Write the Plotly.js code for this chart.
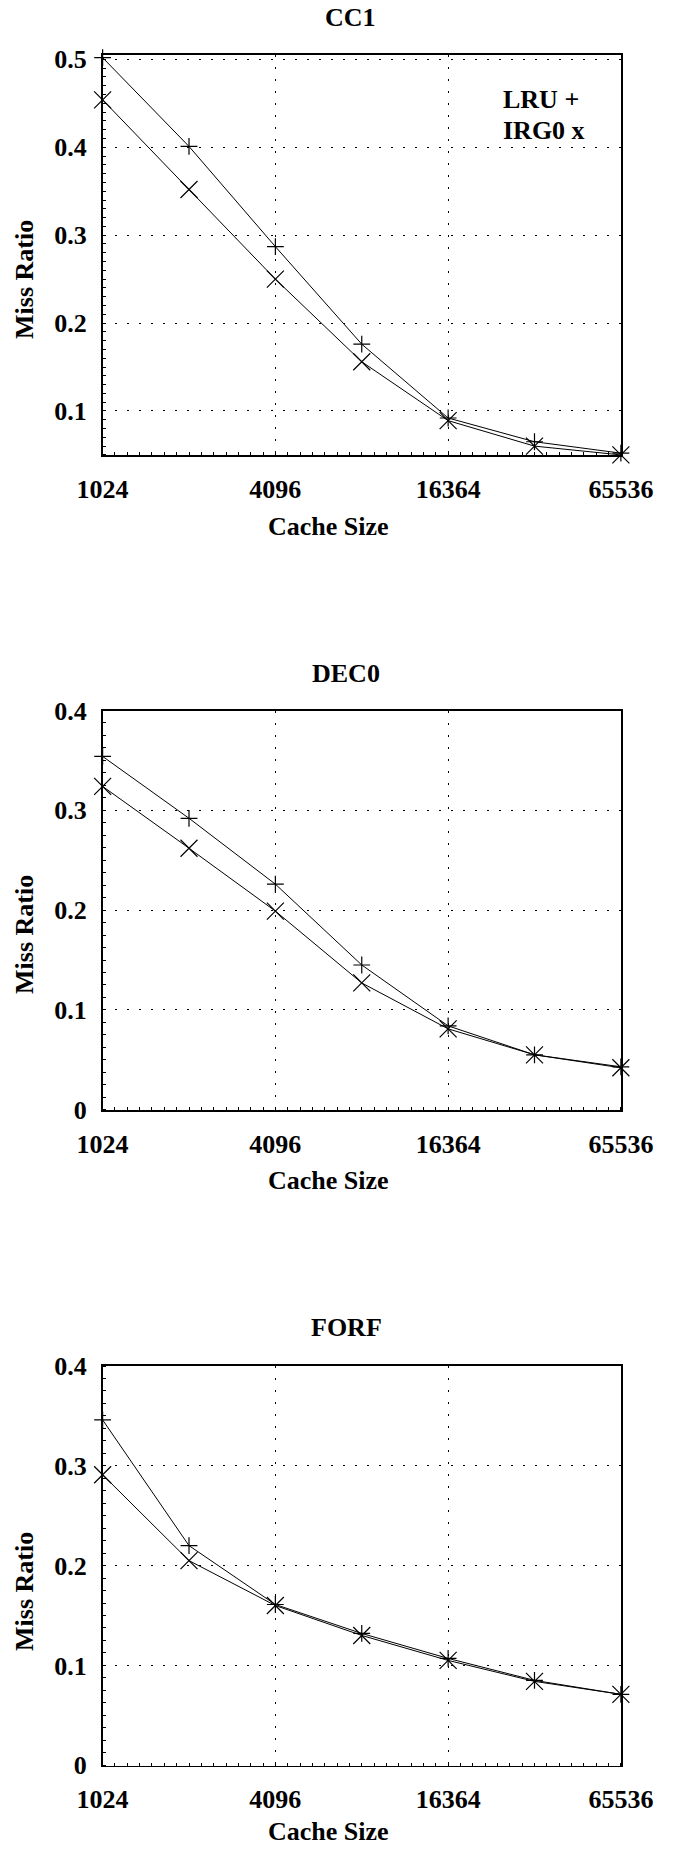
<!DOCTYPE html>
<html>
<head>
<meta charset="utf-8">
<script src="https://cdn.plot.ly/plotly-3.0.1.min.js"></script>
<style>
  html, body { margin: 0; padding: 0; background: #fff; }
  #chart { width: 683px; height: 1849px; }
</style>
</head>
<body>
<div id="chart"></div>
<script>
// ---- data ----
const cacheSizes = [1024, 2048, 4096, 8192, 16384, 32768, 65536];
const xTickVals = [1024, 4096, 16384, 65536];
const xTickText = ['1024', '4096', '16364', '65536'];

const panelTitles = ['CC1', 'DEC0', 'FORF'];
const seriesNames = ['LRU', 'IRG0'];

const cc1LRU  = [0.502, 0.401, 0.287, 0.176, 0.092, 0.065, 0.052];
const cc1IRG0 = [0.454, 0.352, 0.250, 0.156, 0.089, 0.060, 0.050];
const dec0LRU  = [0.354, 0.292, 0.226, 0.145, 0.084, 0.055, 0.043];
const dec0IRG0 = [0.324, 0.262, 0.199, 0.127, 0.081, 0.055, 0.042];
const forfLRU  = [0.346, 0.220, 0.161, 0.132, 0.107, 0.085, 0.071];
const forfIRG0 = [0.291, 0.205, 0.160, 0.130, 0.105, 0.084, 0.071];

const cc1YTicks = [0.1, 0.2, 0.3, 0.4, 0.5];
const cc1YText = ['0.1', '0.2', '0.3', '0.4', '0.5'];
const otherYTicks = [0, 0.1, 0.2, 0.3, 0.4];
const otherYText = ['0', '0.1', '0.2', '0.3', '0.4'];

// ---- styling ----
const FONT = '"Liberation Serif", "Times New Roman", Times, serif';
const W = 683, H = 1849;
const px2y = p => 1 - p / H;
const px2x = p => p / W;

const xDomain = [px2x(102.5), px2x(621)];
const yDomains = [
  [px2y(455), px2y(55)],
  [px2y(1110), px2y(710.5)],
  [px2y(1765.5), px2y(1366)]
];
const yRanges = [[0.0499, 0.505], [-0.0003, 0.4], [-0.0003, 0.4]];
const yMinor = [0.01, 0.0125, 0.0125];

const seriesData = [[cc1LRU, cc1IRG0], [dec0LRU, dec0IRG0], [forfLRU, forfIRG0]];

const traces = [];
seriesData.forEach((pair, i) => {
  const xa = i === 0 ? 'x' : 'x' + (i + 1);
  const ya = i === 0 ? 'y' : 'y' + (i + 1);
  traces.push({
    x: cacheSizes, y: pair[0], xaxis: xa, yaxis: ya, name: seriesNames[0],
    type: 'scatter', mode: 'lines+markers', cliponaxis: false,
    line: { color: '#000', width: 1 },
    marker: { symbol: 'cross-thin-open', size: 12, color: '#000', line: { color: '#000', width: 1.2 } }
  });
  traces.push({
    x: cacheSizes, y: pair[1], xaxis: xa, yaxis: ya, name: seriesNames[1],
    type: 'scatter', mode: 'lines+markers', cliponaxis: false,
    line: { color: '#000', width: 1 },
    marker: { symbol: 'x-thin-open', size: 17, color: '#000', line: { color: '#000', width: 1.2 } }
  });
});

const tickFont = { family: FONT, size: 26, color: '#000', weight: 'bold' };

function xAxis(i) {
  return {
    type: 'log', domain: xDomain, anchor: i === 0 ? 'y' : 'y' + (i + 1),
    range: [Math.log10(1023), Math.log10(65600)],
    tickmode: 'array', tickvals: xTickVals, ticktext: xTickText,
    tickfont: tickFont, ticks: '', ticklabelstandoff: 10,
    showgrid: true, gridcolor: '#000', gridwidth: 1, griddash: '2px,10px',
    showline: true, mirror: true, linecolor: '#000', linewidth: 1.6,
    zeroline: false, fixedrange: true,
    minor: { ticks: 'inside', ticklen: 3, tickcolor: '#000', tickwidth: 1,
             tick0: Math.log10(1024), dtick: Math.log10(2) / 7, showgrid: false }
  };
}
function yAxis(i) {
  return {
    domain: yDomains[i], anchor: i === 0 ? 'x' : 'x' + (i + 1),
    range: yRanges[i],
    tickmode: 'array',
    tickvals: i === 0 ? cc1YTicks : otherYTicks,
    ticktext: i === 0 ? cc1YText : otherYText,
    tickfont: tickFont, ticks: '', ticklabelstandoff: 9,
    showgrid: true, gridcolor: '#000', gridwidth: 1, griddash: '2px,10px',
    showline: true, mirror: true, linecolor: '#000', linewidth: 1.6,
    zeroline: false, fixedrange: true,
    minor: { ticks: 'inside', ticklen: 3, tickcolor: '#000', tickwidth: 1,
             tick0: 0, dtick: yMinor[i], showgrid: false }
  };
}

const textFont = { family: FONT, size: 26, color: '#000', weight: 'bold' };
const annotations = [];
const titleY = [18, 673, 1327];
const titleX = [350, 346, 346];
const cacheY = [526, 1180, 1831];
const missY = [280, 935, 1592];
for (let i = 0; i < 3; i++) {
  annotations.push({ text: panelTitles[i], xref: 'paper', yref: 'paper',
    x: px2x(titleX[i]), y: px2y(titleY[i]), xanchor: 'center', yanchor: 'middle',
    showarrow: false, font: textFont });
  annotations.push({ text: 'Cache Size', xref: 'paper', yref: 'paper',
    x: px2x(328), y: px2y(cacheY[i]), xanchor: 'center', yanchor: 'middle',
    showarrow: false, font: textFont });
  annotations.push({ text: 'Miss Ratio', xref: 'paper', yref: 'paper', textangle: -90,
    x: px2x(24), y: px2y(missY[i]), xanchor: 'center', yanchor: 'middle',
    showarrow: false, font: textFont });
}
annotations.push({ text: 'LRU +', xref: 'paper', yref: 'paper',
  x: px2x(501), y: px2y(100), xanchor: 'left', yanchor: 'middle',
  showarrow: false, font: textFont });
annotations.push({ text: 'IRG0 x', xref: 'paper', yref: 'paper',
  x: px2x(501), y: px2y(131), xanchor: 'left', yanchor: 'middle',
  showarrow: false, font: textFont });

const layout = {
  width: W, height: H,
  margin: { l: 0, r: 0, t: 0, b: 0 },
  paper_bgcolor: '#fff', plot_bgcolor: '#fff',
  showlegend: false,
  font: { family: FONT, size: 26, color: '#000' },
  xaxis: xAxis(0), xaxis2: xAxis(1), xaxis3: xAxis(2),
  yaxis: yAxis(0), yaxis2: yAxis(1), yaxis3: yAxis(2),
  annotations: annotations
};

Plotly.newPlot('chart', traces, layout, { staticPlot: true, displayModeBar: false });
</script>
</body>
</html>
